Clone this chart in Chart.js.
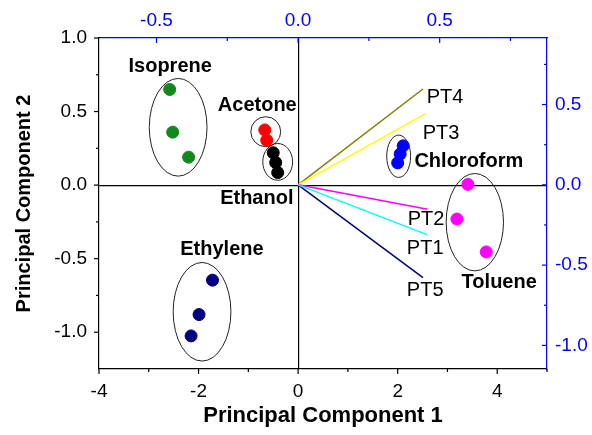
<!DOCTYPE html>
<html>
<head>
<meta charset="utf-8">
<script src="https://cdn.jsdelivr.net/npm/chart.js@4.4.0/dist/chart.umd.min.js"></script>
<style>
  body { margin: 0; background: #fff; }
</style>
</head>
<body>
<canvas id="pcaChart" width="592" height="435"></canvas>
<script>
  // Scores (PC1 / PC2) per gas
  const isopreneX = [-2.58, -2.52, -2.20];
  const isopreneY = [0.65, 0.36, 0.19];
  const acetoneX = [-0.67, -0.63];
  const acetoneY = [0.375, 0.305];
  const ethanolX = [-0.50, -0.45, -0.41];
  const ethanolY = [0.22, 0.153, 0.085];
  const chloroformX = [2.11, 2.05, 2.00];
  const chloroformY = [0.267, 0.211, 0.151];
  const tolueneX = [3.41, 3.19, 3.78];
  const tolueneY = [0.005, -0.231, -0.454];
  const ethyleneX = [-1.72, -1.99, -2.15];
  const ethyleneY = [-0.646, -0.880, -1.025];

  // Loadings of the sensors (top / right axes)
  const sensors = ['PT1', 'PT2', 'PT3', 'PT4', 'PT5'];
  const loading1 = [0.455, 0.457, 0.450, 0.441, 0.441];
  const loading2 = [-0.310, -0.152, 0.443, 0.597, -0.578];

  // Tick values and labels
  const xTicks = [-4, -2, 0, 2, 4];
  const xTickLabels = ['-4', '-2', '0', '2', '4'];
  const xMinor = [-3, -1, 1, 3, 5];
  const yTicks = [-1.0, -0.5, 0.0, 0.5, 1.0];
  const yTickLabels = ['-1.0', '-0.5', '0.0', '0.5', '1.0'];
  const yMinor = [-0.75, -0.25, 0.25, 0.75];
  const x2Ticks = [-0.5, 0.0, 0.5];
  const x2TickLabels = ['-0.5', '0.0', '0.5'];
  const x2Minor = [-0.25, 0.25, 0.75];
  const y2Ticks = [-1.0, -0.5, 0.0, 0.5];
  const y2TickLabels = ['-1.0', '-0.5', '0.0', '0.5'];
  const y2Minor = [-0.75, -0.25, 0.25, 0.75];

  const FONT = "'Liberation Sans', Arial, sans-serif";
  const BLUE = '#0000ff';

  function pts(xs, ys) {
    return xs.map((x, i) => ({ x: x, y: ys[i] }));
  }

  // group outlines, in PC1/PC2 units: [cx, cy, rx, ry]
  const outlines = [
    [-2.41, 0.393, 0.58, 0.332],
    [-0.65, 0.363, 0.30, 0.102],
    [-0.41, 0.158, 0.30, 0.125],
    [2.02, 0.196, 0.24, 0.144],
    [3.55, -0.252, 0.576, 0.331],
    [-1.93, -0.861, 0.58, 0.335]
  ];

  // where the names go (PC1/PC2 units, text centre)
  const groupLabels = [
    ['Isoprene', -2.57, 0.805],
    ['Acetone', -0.82, 0.544],
    ['Ethanol', -0.83, -0.088],
    ['Chloroform', 3.43, 0.158],
    ['Toluene', 4.04, -0.66],
    ['Ethylene', -1.53, -0.437]
  ];
  // sensor names (loading units, left edge / middle)
  const sensorLabelAt = {
    PT1: [0.384, -0.399],
    PT2: [0.387, -0.218],
    PT3: [0.440, 0.322],
    PT4: [0.454, 0.544],
    PT5: [0.384, -0.655]
  };
  const sensorColors = ['#00ffff', '#ff00ff', '#ffff00', '#808000', '#000080'];

  const datasets = [];
  sensors.forEach((s, i) => {
    datasets.push({
      label: s,
      data: [{ x: 0, y: 0 }, { x: loading1[i], y: loading2[i] }],
      xAxisID: 'x2',
      yAxisID: 'y2',
      showLine: true,
      borderColor: sensorColors[i],
      borderWidth: 1.5,
      pointRadius: 0
    });
  });

  const scoreSets = [
    [isopreneX, isopreneY, '#14881a'],
    [acetoneX, acetoneY, '#ff0000'],
    [ethanolX, ethanolY, '#000000'],
    [chloroformX, chloroformY, '#0000ff'],
    [tolueneX, tolueneY, '#ff00ff'],
    [ethyleneX, ethyleneY, '#000080']
  ];
  scoreSets.forEach(s => {
    datasets.push({
      data: pts(s[0], s[1]),
      xAxisID: 'x',
      yAxisID: 'y',
      backgroundColor: s[2],
      borderColor: s[2],
      borderWidth: 1,
      pointRadius: 6
    });
  });

  // tick marks (major + minor), inward on top/right, outward on left/bottom
  const tickMarks = {
    id: 'tickMarks',
    afterDraw(chart) {
      const ctx = chart.ctx;
      const a = chart.chartArea;
      const s = chart.scales;
      ctx.save();
      ctx.lineWidth = 1.2;
      function hTicks(scale, vals, y, len, color) {
        ctx.strokeStyle = color;
        vals.forEach(v => {
          const px = scale.getPixelForValue(v);
          ctx.beginPath();
          ctx.moveTo(px, y);
          ctx.lineTo(px, y + len);
          ctx.stroke();
        });
      }
      function vTicks(scale, vals, x, len, color) {
        ctx.strokeStyle = color;
        vals.forEach(v => {
          const py = scale.getPixelForValue(v);
          ctx.beginPath();
          ctx.moveTo(x, py);
          ctx.lineTo(x + len, py);
          ctx.stroke();
        });
      }
      hTicks(s.x, xTicks, a.bottom, 5, '#000');
      hTicks(s.x, xMinor, a.bottom, 3, '#000');
      vTicks(s.y, yTicks, a.left, -5, '#000');
      vTicks(s.y, yMinor, a.left, -3, '#000');
      hTicks(s.x2, x2Ticks, a.top, 5, BLUE);
      hTicks(s.x2, x2Minor, a.top, 3, BLUE);
      vTicks(s.y2, y2Ticks, a.right, -5, BLUE);
      vTicks(s.y2, y2Minor, a.right, -3, BLUE);
      ctx.restore();
    }
  };

  // ellipses round each gas
  const groupOutlines = {
    id: 'groupOutlines',
    beforeDatasetsDraw(chart) {
      const ctx = chart.ctx;
      const xs = chart.scales.x, ys = chart.scales.y;
      ctx.save();
      ctx.strokeStyle = '#222';
      ctx.lineWidth = 1;
      outlines.forEach(o => {
        const cx = xs.getPixelForValue(o[0]);
        const cy = ys.getPixelForValue(o[1]);
        const rx = Math.abs(xs.getPixelForValue(o[0] + o[2]) - cx);
        const ry = Math.abs(ys.getPixelForValue(o[1] + o[3]) - cy);
        ctx.beginPath();
        ctx.ellipse(cx, cy, rx, ry, 0, 0, Math.PI * 2);
        ctx.stroke();
      });
      ctx.restore();
    }
  };

  const textLabels = {
    id: 'textLabels',
    afterDatasetsDraw(chart) {
      const ctx = chart.ctx;
      const s = chart.scales;
      ctx.save();
      ctx.fillStyle = '#000';
      ctx.textBaseline = 'middle';
      ctx.textAlign = 'center';
      ctx.font = 'bold 20px ' + FONT;
      groupLabels.forEach(g => {
        ctx.fillText(g[0], s.x.getPixelForValue(g[1]), s.y.getPixelForValue(g[2]));
      });
      ctx.textAlign = 'left';
      ctx.font = '20px ' + FONT;
      sensors.forEach(name => {
        const p = sensorLabelAt[name];
        ctx.fillText(name, s.x2.getPixelForValue(p[0]), s.y2.getPixelForValue(p[1]));
      });
      ctx.restore();
    }
  };

  function zeroLine(c) {
    return c.tick && c.tick.value === 0 ? '#000' : 'rgba(0,0,0,0)';
  }

  new Chart(document.getElementById('pcaChart'), {
    type: 'scatter',
    data: { datasets: datasets },
    options: {
      responsive: false,
      animation: false,
      layout: { padding: 0 },
      plugins: {
        legend: { display: false },
        tooltip: { enabled: false }
      },
      scales: {
        x: {
          type: 'linear',
          position: 'bottom',
          min: -4,
          max: 5,
          afterBuildTicks: sc => { sc.ticks = xTicks.map(v => ({ value: v })); },
          afterFit: sc => { sc.height = 66; },
          border: { color: '#000', width: 1.2 },
          grid: { drawTicks: false, color: zeroLine, lineWidth: 1.2 },
          ticks: {
            padding: 11,
            color: '#000',
            font: { family: FONT, size: 19 },
            callback: (v, i) => xTickLabels[i]
          },
          title: {
            display: true,
            text: 'Principal Component 1',
            color: '#000',
            font: { family: FONT, size: 22, weight: 'bold' },
            padding: { top: 0, bottom: 6 }
          }
        },
        y: {
          type: 'linear',
          position: 'left',
          min: -1.25,
          max: 1.0,
          afterBuildTicks: sc => { sc.ticks = yTicks.map(v => ({ value: v })); },
          afterFit: sc => { sc.width = 99; },
          border: { color: '#000', width: 1.2 },
          grid: { drawTicks: false, color: zeroLine, lineWidth: 1.2 },
          ticks: {
            padding: 12,
            color: '#000',
            font: { family: FONT, size: 19 },
            callback: (v, i) => yTickLabels[i]
          },
          title: {
            display: true,
            text: 'Principal Component 2',
            color: '#000',
            font: { family: FONT, size: 20, weight: 'bold' },
            padding: { top: 12, bottom: 0 }
          }
        },
        x2: {
          type: 'linear',
          position: 'top',
          min: -0.703,
          max: 0.879,
          afterBuildTicks: sc => { sc.ticks = x2Ticks.map(v => ({ value: v })); },
          afterFit: sc => { sc.height = 38; },
          border: { color: BLUE, width: 1.2 },
          grid: { drawTicks: false, drawOnChartArea: false },
          ticks: {
            padding: 6,
            color: BLUE,
            font: { family: FONT, size: 19 },
            callback: (v, i) => x2TickLabels[i]
          }
        },
        y2: {
          type: 'linear',
          position: 'right',
          min: -1.147,
          max: 0.9145,
          afterBuildTicks: sc => { sc.ticks = y2Ticks.map(v => ({ value: v })); },
          afterFit: sc => { sc.width = 45; },
          border: { color: BLUE, width: 1.2 },
          grid: { drawTicks: false, drawOnChartArea: false },
          ticks: {
            padding: 8,
            color: BLUE,
            font: { family: FONT, size: 19 },
            callback: (v, i) => y2TickLabels[i]
          }
        }
      }
    },
    plugins: [groupOutlines, textLabels, tickMarks]
  });
</script>
</body>
</html>
